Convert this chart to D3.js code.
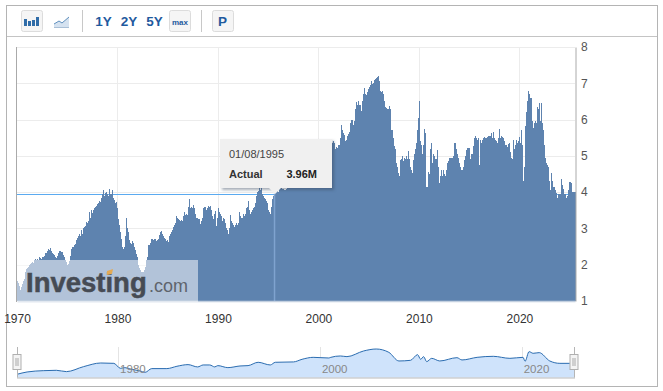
<!DOCTYPE html>
<html>
<head>
<meta charset="utf-8">
<script src="https://cdnjs.cloudflare.com/ajax/libs/d3/7.8.5/d3.min.js"></script>
<style>
html, body { margin: 0; padding: 0; background: #fff; overflow: hidden; }
text { font-family: "Liberation Sans", Arial, sans-serif; }
</style>
</head>
<body>
<svg width="663" height="391"></svg>
<script>
// Monthly values in millions, one row per year
var values1970s = [
    1.55,1.5,1.42,1.35,1.3,1.38,1.48,1.55,1.6,1.7,1.8,1.88,
    1.9,1.95,2.0,2.02,2.0,2.05,2.08,2.05,2.12,2.15,2.1,2.14,
    2.17,2.14,2.2,2.16,2.18,2.15,2.2,2.22,2.25,2.3,2.33,2.32,
    2.38,2.44,2.4,2.45,2.34,2.37,2.32,2.3,2.27,2.2,2.15,2.18,
    2.25,2.32,2.37,2.3,2.38,2.34,2.36,2.28,2.2,2.12,2.08,2.03,
    2.0,2.03,2.1,2.25,2.38,2.44,2.48,2.5,2.55,2.58,2.62,2.68,
    2.75,2.8,2.85,2.78,2.95,2.9,2.85,3.0,3.05,3.08,3.05,3.17,
    3.15,3.2,3.45,3.3,3.5,3.4,3.42,3.5,3.55,3.58,3.62,3.67,
    3.65,3.7,3.75,3.72,3.85,3.8,3.95,4.06,3.9,3.98,4.0,3.94,
    3.93,3.9,4.1,3.96,3.94,3.92,4.07,3.85,3.78,3.7,3.72,3.55
];
var values1980s = [
    3.3,3.25,3.1,2.9,2.7,2.5,2.45,2.44,2.5,2.8,3.3,3.0,
    2.9,2.75,2.67,2.6,2.58,2.65,2.6,2.55,2.49,2.4,2.3,2.2,
    2.0,1.98,1.9,1.85,1.8,1.8,1.78,1.8,1.85,1.95,2.12,2.2,
    2.3,2.53,2.55,2.6,2.7,2.72,2.68,2.6,2.72,2.7,2.65,2.68,
    2.7,2.78,2.82,2.89,2.93,2.85,2.8,2.75,2.62,2.72,2.66,2.68,
    2.62,2.72,2.8,2.85,2.9,2.95,3.03,3.0,3.1,3.15,3.35,3.3,
    3.26,3.22,3.24,3.2,3.22,3.2,3.35,3.44,3.3,3.38,3.4,3.38,
    3.6,3.8,3.5,3.55,3.6,3.55,3.65,3.55,3.4,3.39,3.3,3.28,
    3.25,3.2,3.25,3.12,3.2,3.3,3.55,3.6,3.58,3.56,3.5,3.55,
    3.62,3.58,3.55,3.62,3.5,3.35,3.25,3.4,3.49,3.1,3.08,3.3
];
var values1990s = [
    3.57,3.45,3.4,3.3,3.35,3.2,3.28,3.25,3.15,3.1,3.0,2.95,
    2.86,3.0,3.15,3.36,3.2,3.15,3.09,3.05,3.1,3.15,3.09,3.1,
    3.15,3.46,3.35,3.3,3.25,3.3,3.4,3.35,3.4,3.5,3.55,3.6,
    3.76,3.5,3.39,3.45,3.4,3.5,3.55,3.6,3.7,3.85,3.9,4.0,
    4.03,4.15,4.05,4.2,4.0,3.95,3.9,3.85,3.8,3.75,3.7,3.6,
    3.5,3.45,3.41,3.5,3.6,3.8,3.9,3.96,4.05,4.1,4.0,4.1,
    4.0,4.15,4.2,4.15,4.1,4.1,4.08,4.05,4.05,4.1,4.1,4.15,
    4.15,4.2,4.2,4.2,4.2,4.25,4.35,4.4,4.4,4.35,4.35,4.45,
    4.5,4.6,4.7,4.7,4.75,4.8,4.8,4.9,4.95,5.0,5.05,5.1,
    5.0,5.15,5.1,5.15,5.2,5.3,5.25,5.25,5.1,5.05,5.1,5.1
];
var values2000s = [
    5.05,4.85,5.0,5.1,5.05,5.0,4.95,5.1,5.1,5.1,5.0,5.2,
    5.3,5.32,5.28,5.4,5.35,5.3,5.4,5.35,5.2,5.25,5.22,5.3,
    5.22,5.3,5.5,5.86,5.7,5.63,5.58,5.45,5.4,5.45,5.55,5.6,
    5.6,5.67,5.9,5.99,5.98,5.85,5.9,5.95,6.3,6.49,6.4,6.52,
    6.4,6.22,6.4,6.25,6.5,6.71,6.8,6.88,6.7,6.67,6.75,6.85,
    6.9,6.85,6.95,7.05,6.98,7.0,7.1,7.08,7.12,7.15,7.18,7.21,
    7.05,6.8,6.67,6.75,6.8,6.7,6.5,6.3,6.35,6.32,6.28,6.3,
    6.37,6.3,6.1,5.72,5.7,5.5,5.27,5.2,5.05,4.8,4.7,4.54,
    4.45,4.89,4.88,4.9,5.0,4.85,4.95,4.9,5.0,4.85,4.9,5.13,
    4.9,4.48,4.7,4.6,4.54,4.89,5.05,5.2,5.1,5.36,5.7,6.04
];
var values2010s = [
    6.5,5.4,5.3,5.05,5.04,5.3,5.74,5.63,3.82,4.14,4.14,4.55,
    4.5,5.2,5.36,5.0,4.8,5.05,5.0,4.9,4.68,4.9,5.15,4.7,
    4.24,4.45,4.6,4.5,4.45,4.6,4.5,4.45,4.6,4.8,4.7,4.85,
    4.95,4.93,4.95,4.93,4.95,5.0,5.36,5.35,5.2,5.05,5.0,4.95,
    4.8,4.7,4.6,4.58,4.62,4.7,4.89,5.0,5.15,5.22,5.0,5.22,
    5.22,4.9,5.05,5.05,5.0,5.27,5.5,5.56,5.5,5.45,5.43,5.5,
    4.75,5.43,5.35,5.43,5.4,5.5,5.52,5.48,5.5,5.52,5.5,5.56,
    5.56,5.55,5.63,5.5,5.65,5.6,5.5,5.45,5.4,5.35,5.5,5.5,
    5.74,5.5,5.55,5.52,5.5,5.35,5.4,5.3,5.3,5.25,5.2,5.32,
    5.36,5.1,4.94,4.9,5.44,5.2,5.2,5.3,5.44,5.35,5.4,5.51
];
var values2020s = [
    5.5,5.35,5.72,5.3,4.32,3.91,4.68,5.83,6.2,6.5,6.8,6.7,
    6.67,6.6,6.6,5.95,5.76,5.8,5.9,5.95,5.9,6.35,6.3,6.45,
    6.45,5.95,6.45,5.9,5.7,5.3,5.1,4.95,4.81,4.75,4.7,4.3,
    4.05,4.0,4.52,4.3,4.15,4.15,4.05,4.05,3.98,3.85,3.95,3.95,
    3.86,3.95,4.36,4.2,4.1,3.95,3.88,3.95,3.85,3.9,4.05,4.27,
    4.15,4.27,4.25,4.0,4.0,4.0,4.01
];

// Navigator line, much coarser than the main series
var navYears = [1970,1971,1972.6,1973.9,1974.9,1976.6,1978.3,1979.6,1980.25,1980.7,1981.2,1982.2,1982.7,1983.35,1984.85,1985.85,
    1986.95,1987.9,1988.45,1989.1,1989.6,1989.9,1990.9,1992.1,1992.9,1993.9,1995.1,1995.6,1997.4,1998.25,1999.35,2000.9,
    2001.1,2002.05,2002.7,2004.35,2005.6,2006.85,2007.85,2009,2009.7,2010,2010.3,2010.6,2011.1,2011.9,2013.6,2014.1,
    2015.6,2017.2,2018.85,2020.15,2020.35,2020.75,2021.15,2021.75,2022.8,2023.8,2024.75,2025.3];
var navValues = [1.5,2.03,2.33,2.41,2.11,3.25,4.08,4.0,2.87,3.02,2.72,2.26,1.95,2.8,2.8,3.33,
    3.71,3.18,3.63,3.63,3.18,3.48,3.02,3.4,3.48,4.24,3.63,4.24,4.32,4.92,5.37,5.22,
    5.37,5.68,5.53,6.82,7.27,6.51,4.54,4.69,5.98,4.92,5.53,4.39,5.14,4.54,5.29,4.77,
    5.37,5.6,5.14,5.37,4.47,6.67,6.29,6.44,4.54,4.0,4.0,3.9];

var yTicks = [1, 2, 3, 4, 5, 6, 7, 8];
var xTickYears = [1970, 1980, 1990, 2000, 2010, 2020];
var navTickYears = [1980, 2000, 2020];
var rangeLabels = ['1Y', '2Y', '5Y'];

var tooltipDate = '01/08/1995';
var tooltipName = 'Actual';
var tooltipText = '3.96M';
var hoverIndex = 307;

var svg = d3.select('svg');

// Join the decades and give every value its month
var allValues = values1970s.concat(values1980s, values1990s, values2000s, values2010s, values2020s);
var months = allValues.map(function(d, i) {
    return {date: new Date(1970, i, 1), value: d};
});

var plot = {l: 17, r: 575, t: 47, b: 301};

var xScale = d3.scaleTime()
    .domain([new Date(1970, 0, 1), new Date(2025, 6, 15)])
    .range([plot.l, plot.r]);
var yScale = d3.scaleLinear()
    .domain([1, 8])
    .range([plot.b, plot.t]);

// Outer frame and toolbar rule
svg.append('rect').attr('x', 6.5).attr('y', 5.5).attr('width', 651).attr('height', 381)
    .attr('fill', '#fff').attr('stroke', '#b4b4b4');
svg.append('line').attr('x1', 7).attr('x2', 657).attr('y1', 36.5).attr('y2', 36.5)
    .attr('stroke', '#c4c4c4');

// Toolbar
function toolButton(x, width) {
    svg.append('rect').attr('x', x + 0.5).attr('y', 10.5).attr('width', width).attr('height', 21).attr('rx', 2)
        .attr('fill', '#f5f5f5').attr('stroke', '#dcdcdc');
}
function toolRule(x) {
    svg.append('line').attr('x1', x).attr('x2', x).attr('y1', 10).attr('y2', 32)
        .attr('stroke', '#c8c8c8');
}

toolButton(21, 21);
[[24, 7], [28, 5], [32, 6], [36, 9]].forEach(function(b) {
    svg.append('rect').attr('x', b[0]).attr('y', 26 - b[1]).attr('width', 3).attr('height', b[1])
        .attr('fill', '#2f6ca8');
});
svg.append('path').attr('d', 'M54,24 L59,21 L62,23 L69,17 L69,27 L54,27 Z').attr('fill', '#d5e2f0');
svg.append('path').attr('d', 'M54,24 L59,21 L62,23 L69,17').attr('fill', 'none').attr('stroke', '#5f8fbd');
svg.append('line').attr('x1', 54).attr('x2', 69).attr('y1', 27.5).attr('y2', 27.5).attr('stroke', '#a9bfd6');
toolRule(82.5);

var rangeScale = d3.scalePoint().domain(rangeLabels).range([103.5, 154.5]);
svg.selectAll('.range-label')
    .data(rangeLabels)
    .enter()
    .append('text')
    .attr('class', 'range-label')
    .attr('x', function(d) { return rangeScale(d); })
    .attr('y', 26)
    .attr('text-anchor', 'middle')
    .attr('font-size', '13.5px')
    .attr('font-weight', 'bold')
    .attr('fill', '#1f5a9e')
    .text(function(d) { return d; });

toolButton(169, 21);
svg.append('text').attr('x', 180).attr('y', 24.5).attr('text-anchor', 'middle')
    .attr('font-size', '8px').attr('font-weight', 'bold').attr('fill', '#1f5a9e').text('max');
toolRule(201.5);
toolButton(212, 21);
svg.append('text').attr('x', 222.5).attr('y', 25.5).attr('text-anchor', 'middle')
    .attr('font-size', '13.5px').attr('font-weight', 'bold').attr('fill', '#1f5a9e').text('P');

// Grid lines sit under everything
svg.append('g').selectAll('line')
    .data(yTicks.filter(function(d) { return d > 1; }))
    .enter()
    .append('line')
    .attr('x1', plot.l).attr('x2', plot.r)
    .attr('y1', function(d) { return Math.round(yScale(d)) + 0.5; })
    .attr('y2', function(d) { return Math.round(yScale(d)) + 0.5; })
    .attr('stroke', '#ececec');
svg.append('g').selectAll('line')
    .data(xTickYears.slice(1))
    .enter()
    .append('line')
    .attr('x1', function(d) { return Math.round(xScale(new Date(d, 0, 1))) + 0.5; })
    .attr('x2', function(d) { return Math.round(xScale(new Date(d, 0, 1))) + 0.5; })
    .attr('y1', plot.t).attr('y2', plot.b)
    .attr('stroke', '#ececec');

// Horizontal crosshair goes behind the bars
var hover = months[hoverIndex];
svg.append('line')
    .attr('x1', plot.l).attr('x2', plot.r)
    .attr('y1', Math.round(yScale(hover.value)) + 0.5)
    .attr('y2', Math.round(yScale(hover.value)) + 0.5)
    .attr('stroke', '#5aaaf0');

// Bars
svg.append('g')
    .attr('shape-rendering', 'crispEdges')
    .selectAll('rect')
    .data(months)
    .enter()
    .append('rect')
    .attr('x', function(d) { return xScale(d.date); })
    .attr('y', function(d) { return yScale(d.value); })
    .attr('width', 1)
    .attr('height', function(d) { return plot.b - yScale(d.value); })
    .attr('fill', '#5e83af');

// Vertical crosshair on top of the bars
svg.append('line')
    .attr('x1', xScale(hover.date) + 0.5).attr('x2', xScale(hover.date) + 0.5)
    .attr('y1', yScale(hover.value)).attr('y2', plot.b)
    .attr('stroke', '#7fa3cf').attr('stroke-width', 1.5);

// Axes
var xAxis = d3.axisBottom(xScale)
    .tickValues(xTickYears.map(function(d) { return new Date(d, 0, 1); }))
    .tickFormat(d3.timeFormat('%Y'))
    .tickSize(0)
    .tickPadding(13);
var xAxisG = svg.append('g')
    .attr('transform', 'translate(0,' + plot.b + ')')
    .call(xAxis);
xAxisG.select('.domain').attr('stroke', '#c3d0e0').attr('stroke-width', 1.5);
xAxisG.selectAll('text').attr('font-size', '12px').attr('fill', '#333')
    .style('font-family', '"Liberation Sans", Arial, sans-serif');

var yAxis = d3.axisRight(yScale)
    .tickValues(yTicks)
    .tickFormat(d3.format('d'))
    .tickSize(0)
    .tickPadding(5.5);
var yAxisG = svg.append('g')
    .attr('transform', 'translate(' + (plot.r + 0.5) + ',0)')
    .call(yAxis);
yAxisG.select('.domain').attr('stroke', '#aaa');
yAxisG.selectAll('text').attr('font-size', '12px').attr('fill', '#555')
    .style('font-family', '"Liberation Sans", Arial, sans-serif');

svg.append('line').attr('x1', plot.l - 0.5).attr('x2', plot.l - 0.5).attr('y1', plot.t).attr('y2', plot.b + 1)
    .attr('stroke', '#aaa');

// Watermark
svg.append('rect').attr('x', plot.l).attr('y', 260).attr('width', 181).attr('height', 42)
    .attr('fill', '#fff').attr('fill-opacity', 0.52);
svg.append('text').attr('x', 26).attr('y', 292)
    .attr('font-size', '27.5px').attr('font-weight', 'bold').attr('fill', '#464b54')
    .attr('stroke', '#464b54').attr('stroke-width', 0.5)
    .text('Investing');
svg.append('text').attr('x', 149).attr('y', 292)
    .attr('font-size', '18px').attr('fill', '#5f646c')
    .text('.com');
svg.append('path').attr('d', 'M107,271 L113,269 L112,274 L107,275 Z').attr('fill', '#e3aa55');

// Tooltip
var tipG = svg.append('g');
tipG.append('path')
    .attr('d', 'M222,141 L334,141 L334,190 L222,190 Z')
    .attr('fill', '#33445a').attr('fill-opacity', 0.45)
    .style('filter', 'blur(1.5px)');
tipG.append('path')
    .attr('d', 'M220,139 L332,139 L332,188 L281,188 L275,194 L269,188 L220,188 Z')
    .attr('fill', '#f0f0f0');
tipG.append('text').attr('x', 229).attr('y', 158)
    .attr('font-size', '11px').attr('fill', '#444').text(tooltipDate);
tipG.append('text').attr('x', 229).attr('y', 178)
    .attr('font-size', '11px').attr('font-weight', 'bold').attr('fill', '#333').text(tooltipName);
tipG.append('text').attr('x', 317).attr('y', 178).attr('text-anchor', 'end')
    .attr('font-size', '11px').attr('font-weight', 'bold').attr('fill', '#222').text(tooltipText);

// Navigator
var navX = d3.scaleLinear().domain([1970, 2025.3]).range([plot.l, plot.r]);
var navY = d3.scaleLinear().domain([1.5, 7.27]).range([374.3, 349]);
var navBottom = 377.5;

svg.append('g').selectAll('line')
    .data(navTickYears)
    .enter()
    .append('line')
    .attr('x1', function(d) { return Math.round(navX(d)) + 0.5; })
    .attr('x2', function(d) { return Math.round(navX(d)) + 0.5; })
    .attr('y1', 347).attr('y2', navBottom)
    .attr('stroke', '#e4e4e4');

var navArea = d3.area()
    .x(function(d, i) { return navX(navYears[i]); })
    .y0(navBottom)
    .y1(function(d) { return navY(d); })
    .curve(d3.curveMonotoneX);
var navLine = d3.line()
    .x(function(d, i) { return navX(navYears[i]); })
    .y(function(d) { return navY(d); })
    .curve(d3.curveMonotoneX);

svg.append('path').datum(navValues).attr('d', navArea).attr('fill', '#cfe3fb');
svg.append('path').datum(navValues).attr('d', navLine)
    .attr('fill', 'none').attr('stroke', '#2a6cb0').attr('stroke-width', 1);

svg.append('line').attr('x1', plot.l).attr('x2', plot.r).attr('y1', navBottom + 0.5).attr('y2', navBottom + 0.5)
    .attr('stroke', '#b9b9b9');

svg.append('g').selectAll('text')
    .data(navTickYears)
    .enter()
    .append('text')
    .attr('x', function(d) { return navX(d) + 15; })
    .attr('y', 373)
    .attr('text-anchor', 'middle')
    .attr('font-size', '11.5px')
    .attr('fill', '#888')
    .text(function(d) { return d; });

// Navigator handles
[17.5, 574.5].forEach(function(x) {
    svg.append('line').attr('x1', x).attr('x2', x).attr('y1', 347).attr('y2', navBottom)
        .attr('stroke', '#b5b5b5');
    svg.append('rect').attr('x', x - 4.5).attr('y', 354.5).attr('width', 8).attr('height', 15)
        .attr('fill', '#f4f4f4').attr('stroke', '#b0b0b0');
    [-2, 0].forEach(function(o) {
        svg.append('line').attr('x1', x + o + 0.5).attr('x2', x + o + 0.5).attr('y1', 358).attr('y2', 366)
            .attr('stroke', '#aaa');
    });
});
</script>
</body>
</html>
